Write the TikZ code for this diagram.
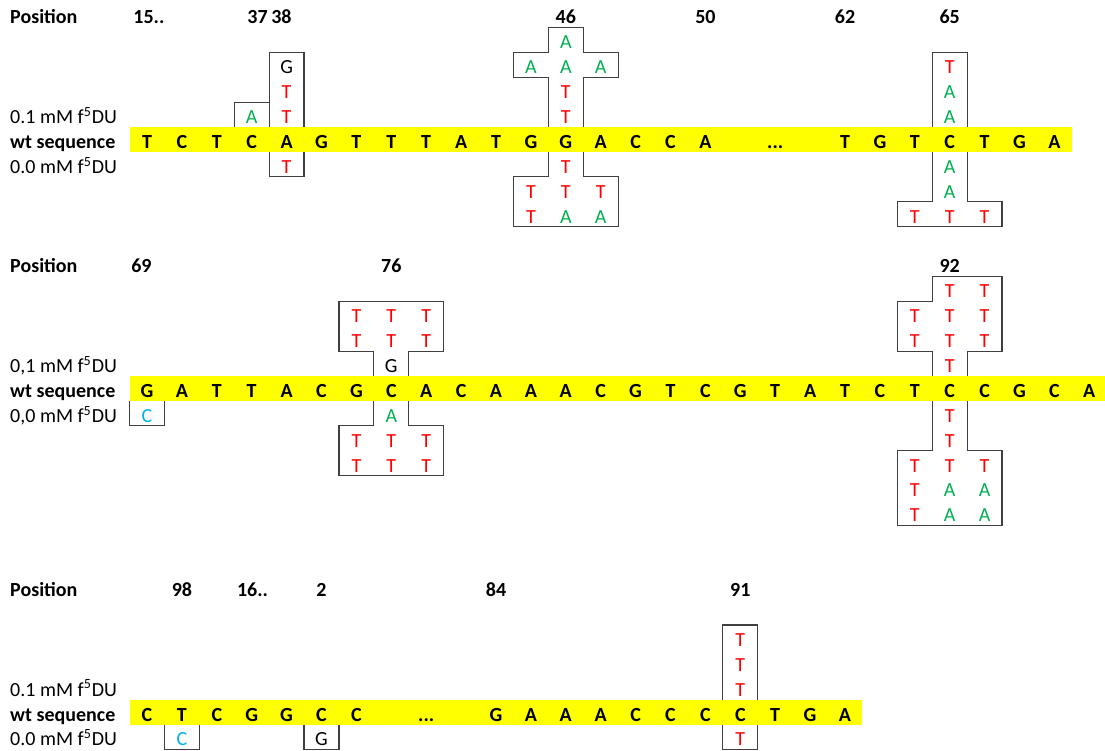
\documentclass[tikz,border=0pt]{standalone}
\usepackage{fontspec}
\setmainfont{Carlito}
\usepackage{tikz}
\definecolor{seqyellow}{HTML}{FFFF00}
\definecolor{mutred}{HTML}{FF0000}
\definecolor{mutgreen}{HTML}{00B050}
\definecolor{mutcyan}{HTML}{00B0F0}
\definecolor{boxgray}{HTML}{404040}
\tikzset{
  txt/.style={anchor=base, inner sep=0pt, yshift=-4.45pt},
  rowlabel/.style={txt, anchor=base west},
  poslabel/.style={txt, font=\bfseries},
  seqbase/.style={txt, font=\bfseries},
  band/.style={fill=seqyellow},
  outline/.style={draw=boxgray, line width=0.6pt},
  obs/.style={txt},
  bT/.style={text=mutred},
  bA/.style={text=mutgreen},
  bC/.style={text=mutcyan},
  bG/.style={text=black}
}

\begin{document}
\begin{tikzpicture}[x=17.45pt, y=12.45pt]
  \useasboundingbox (-4.212,5.602) rectangle (27.45,-24.558);

  % first block
  \fill[band] (-0.5,-0.5) rectangle (26.5,0.5);
  \draw[outline] (2.5,0.5) -- (2.5,1.5) -- (3.5,1.5);
  \draw[outline] (3.5,0.5) -- (3.5,3.5) -- (4.5,3.5) -- (4.5,0.5);
  \draw[outline] (3.5,-0.5) -- (3.5,-1.5) -- (4.5,-1.5) -- (4.5,-0.5);
  \draw[outline] (11.5,0.5) -- (11.5,2.5) -- (10.5,2.5) -- (10.5,3.5) -- (11.5,3.5) -- (11.5,4.5)
    -- (12.5,4.5) -- (12.5,3.5) -- (13.5,3.5) -- (13.5,2.5) -- (12.5,2.5) -- (12.5,0.5);
  \draw[outline] (11.5,-0.5) -- (11.5,-1.5) -- (10.5,-1.5) -- (10.5,-3.5) -- (13.5,-3.5)
    -- (13.5,-1.5) -- (12.5,-1.5) -- (12.5,-0.5);
  \draw[outline] (22.5,0.5) -- (22.5,3.5) -- (23.5,3.5) -- (23.5,0.5);
  \draw[outline] (22.5,-0.5) -- (22.5,-2.5) -- (21.5,-2.5) -- (21.5,-3.5) -- (24.5,-3.5)
    -- (24.5,-2.5) -- (23.5,-2.5) -- (23.5,-0.5);

  \node[rowlabel, font=\bfseries] (r1pos) at (-3.93,5) {Position};
  \node[rowlabel] (r1hi) at (-3.93,1) {0.1 mM f\textsuperscript{5}DU};
  \node[rowlabel, font=\bfseries] (r1wt) at (-3.93,0) {wt sequence};
  \node[rowlabel] (r1lo) at (-3.93,-1) {0.0 mM f\textsuperscript{5}DU};

  \node[poslabel, anchor=base west] (p15) at (-0.4,5) {15..};
  \node[poslabel, anchor=base east] (p37) at (3.47,5) {37};
  \node[poslabel, anchor=base west] (p38) at (3.55,5) {38};
  \node[poslabel] (p46) at (12,5) {46};
  \node[poslabel] (p50) at (16,5) {50};
  \node[poslabel] (p62) at (20,5) {62};
  \node[poslabel] (p65) at (23,5) {65};

  \foreach \b [count=\i from 0] in {T,C,T,C,A,G,T,T,T,A,T,G,G,A,C,C,A}
    \node[seqbase] (r1s\i) at (\i,0) {\b};
  \node[seqbase] (r1dots) at (18,0) {...};
  \foreach \b [count=\i from 20] in {T,G,T,C,T,G,A}
    \node[seqbase] (r1s\i) at (\i,0) {\b};

  \foreach \x/\y/\b in {3/1/A, 4/3/G, 4/2/T, 4/1/T, 4/-1/T,
      12/4/A, 11/3/A, 12/3/A, 13/3/A, 12/2/T, 12/1/T,
      12/-1/T, 11/-2/T, 12/-2/T, 13/-2/T, 11/-3/T, 12/-3/A, 13/-3/A,
      23/3/T, 23/2/A, 23/1/A, 23/-1/A, 23/-2/A, 22/-3/T, 23/-3/T, 24/-3/T}
    \node[obs, b\b] (r1m-\x-\y) at (\x,\y) {\b};

  % second block
  \begin{scope}[shift={(0,-10)}]
    \fill[band] (-0.5,-0.5) rectangle (27.45,0.5);
    \draw[outline] (-0.5,-0.5) -- (-0.5,-1.5) -- (0.5,-1.5) -- (0.5,-0.5);
    \draw[outline] (6.5,0.5) -- (6.5,1.5) -- (5.5,1.5) -- (5.5,3.5) -- (8.5,3.5)
      -- (8.5,1.5) -- (7.5,1.5) -- (7.5,0.5);
    \draw[outline] (6.5,-0.5) -- (6.5,-1.5) -- (5.5,-1.5) -- (5.5,-3.5) -- (8.5,-3.5)
      -- (8.5,-1.5) -- (7.5,-1.5) -- (7.5,-0.5);
    \draw[outline] (22.5,0.5) -- (22.5,1.5) -- (21.5,1.5) -- (21.5,3.5) -- (22.5,3.5)
      -- (22.5,4.5) -- (24.5,4.5) -- (24.5,1.5) -- (23.5,1.5) -- (23.5,0.5);
    \draw[outline] (22.5,-0.5) -- (22.5,-2.5) -- (21.5,-2.5) -- (21.5,-5.5) -- (24.5,-5.5)
      -- (24.5,-2.5) -- (23.5,-2.5) -- (23.5,-0.5);

    \node[rowlabel, font=\bfseries] (r2pos) at (-3.93,5) {Position};
    \node[rowlabel] (r2hi) at (-3.93,1) {0,1 mM f\textsuperscript{5}DU};
    \node[rowlabel, font=\bfseries] (r2wt) at (-3.93,0) {wt sequence};
    \node[rowlabel] (r2lo) at (-3.93,-1) {0,0 mM f\textsuperscript{5}DU};

    \node[poslabel, anchor=base west] (p69) at (-0.46,5) {69};
    \node[poslabel] (p76) at (7,5) {76};
    \node[poslabel] (p92) at (23,5) {92};

    \foreach \b [count=\i from 0] in {G,A,T,T,A,C,G,C,A,C,A,A,A,C,G,T,C,G,T,A,T,C,T,C,C,G,C,A}
      \node[seqbase] (r2s\i) at (\i,0) {\b};

    \foreach \x/\y/\b in {0/-1/C, 7/1/G, 6/2/T, 7/2/T, 8/2/T, 6/3/T, 7/3/T, 8/3/T,
        7/-1/A, 6/-2/T, 7/-2/T, 8/-2/T, 6/-3/T, 7/-3/T, 8/-3/T,
        23/1/T, 22/2/T, 23/2/T, 24/2/T, 22/3/T, 23/3/T, 24/3/T, 23/4/T, 24/4/T,
        23/-1/T, 23/-2/T, 22/-3/T, 23/-3/T, 24/-3/T, 22/-4/T, 23/-4/A, 24/-4/A,
        22/-5/T, 23/-5/A, 24/-5/A}
      \node[obs, b\b] (r2m-\x-\y) at (\x,\y) {\b};
  \end{scope}

  % third block
  \begin{scope}[shift={(0,-23)}]
    \fill[band] (-0.5,-0.5) rectangle (20.5,0.5);
    \draw[outline] (0.5,-0.5) -- (0.5,-1.5) -- (1.5,-1.5) -- (1.5,-0.5);
    \draw[outline] (4.5,-0.5) -- (4.5,-1.5) -- (5.5,-1.5) -- (5.5,-0.5);
    \draw[outline] (16.5,0.5) -- (16.5,3.5) -- (17.5,3.5) -- (17.5,0.5);
    \draw[outline] (16.5,-0.5) -- (16.5,-1.5) -- (17.5,-1.5) -- (17.5,-0.5);

    \node[rowlabel, font=\bfseries] (r3pos) at (-3.93,5) {Position};
    \node[rowlabel] (r3hi) at (-3.93,1) {0.1 mM f\textsuperscript{5}DU};
    \node[rowlabel, font=\bfseries] (r3wt) at (-3.93,0) {wt sequence};
    \node[rowlabel] (r3lo) at (-3.93,-1) {0.0 mM f\textsuperscript{5}DU};

    \node[poslabel] (p98) at (1,5) {98};
    \node[poslabel, anchor=base west] (p16) at (2.57,5) {16..};
    \node[poslabel] (p2) at (5,5) {2};
    \node[poslabel] (p84) at (10,5) {84};
    \node[poslabel] (p91) at (17,5) {91};

    \foreach \b [count=\i from 0] in {C,T,C,G,G,C,C}
      \node[seqbase] (r3s\i) at (\i,0) {\b};
    \node[seqbase] (r3dots) at (8,0) {...};
    \foreach \b [count=\i from 10] in {G,A,A,A,C,C,C,C,T,G,A}
      \node[seqbase] (r3s\i) at (\i,0) {\b};

    \foreach \x/\y/\b in {1/-1/C, 5/-1/G, 17/1/T, 17/2/T, 17/3/T, 17/-1/T}
      \node[obs, b\b] (r3m-\x-\y) at (\x,\y) {\b};
  \end{scope}
\end{tikzpicture}
\end{document}
